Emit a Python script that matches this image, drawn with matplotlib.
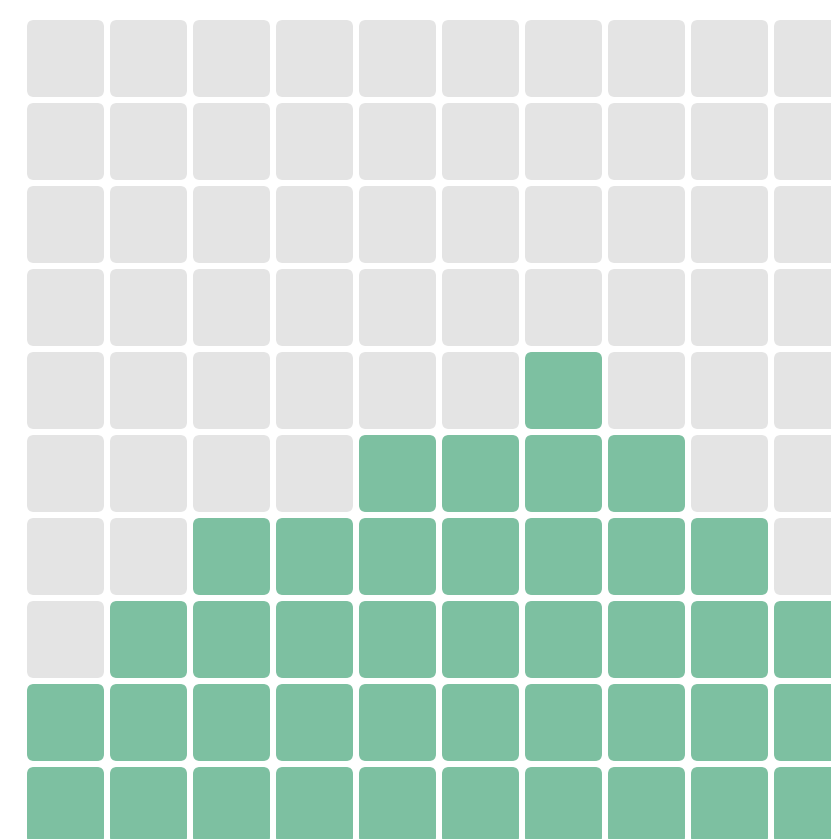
import matplotlib
matplotlib.use("Agg")
import matplotlib.pyplot as plt
from matplotlib.patches import FancyBboxPatch

# Data: number of filled cells per column (from bottom)
columns = list(range(10))
filled_counts = [2, 3, 4, 4, 5, 5, 6, 5, 4, 3]
n_rows = 10

grey = "#e4e4e4"
green = "#7dc0a1"

W, H = 831, 839
pitch = 83.0
cell = 77.0 / pitch
radius = 7.0 / pitch

fig = plt.figure(figsize=(W / 100, H / 100), dpi=100)
ax = fig.add_axes([0, 0, 1, 1])
ax.set_xlim(-27 / pitch, (W - 27) / pitch)
ax.set_ylim((H - 20) / pitch, -20 / pitch)
ax.axis("off")

for c, cnt in zip(columns, filled_counts):
    for r in range(n_rows):
        # r counts from the top
        from_bottom = n_rows - 1 - r
        color = green if from_bottom < cnt else grey
        p = FancyBboxPatch((c + radius, r + radius), cell - 2 * radius, cell - 2 * radius,
                           boxstyle=f"round,pad={radius},rounding_size={radius}",
                           facecolor=color, edgecolor="none", linewidth=0)
        ax.add_patch(p)

fig.savefig("out.png", dpi=100)
